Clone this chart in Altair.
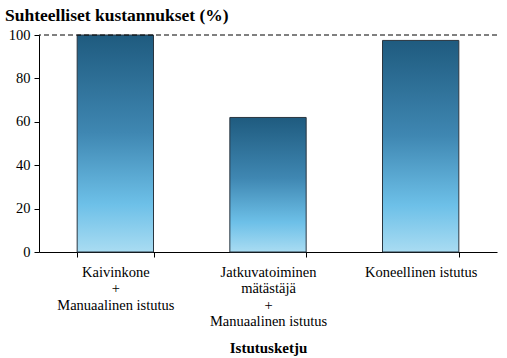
import altair as alt
import pandas as pd

categories = ["Kaivinkone|+|Manuaalinen istutus",
              "Jatkuvatoiminen|mätästäjä|+|Manuaalinen istutus",
              "Koneellinen istutus"]
values = [100, 62, 97.5]
ref_value = [100]

df = pd.DataFrame({"cat": categories, "val": values})
ref = pd.DataFrame({"y": ref_value})

font = "Liberation Serif"

grad = alt.Gradient(
    gradient="linear", x1=0, x2=0, y1=0, y2=1,
    stops=[alt.GradientStop(color="#1f5b7f", offset=0),
           alt.GradientStop(color="#3f87b2", offset=0.45),
           alt.GradientStop(color="#6dc0e8", offset=0.78),
           alt.GradientStop(color="#a9dcf2", offset=1)])

bars = alt.Chart(df).mark_bar(fill=grad, stroke="#2a3640", strokeWidth=1).encode(
    x=alt.X("cat:N", sort=categories, title="Istutusketju",
            scale=alt.Scale(paddingInner=0.5, paddingOuter=0.25),
            axis=alt.Axis(labelExpr="split(datum.label, '|')", labelAngle=0,
                          tickBand="extent", labelFont=font, labelFontSize=14.5,
                          labelColor="black", labelPadding=8, labelLineHeight=16.5,
                          titleFont=font, titleFontSize=15, titleFontWeight="bold",
                          titleColor="black", titlePadding=12,
                          domainColor="black", tickColor="black", tickSize=5)),
    y=alt.Y("val:Q", title=None, scale=alt.Scale(domain=[0, 100], nice=False),
            axis=alt.Axis(values=[0, 20, 40, 60, 80, 100], grid=False,
                          labelFont=font, labelFontSize=14.5, labelColor="black",
                          domainColor="black", tickColor="black", tickSize=5,
                          labelPadding=4)),
)

rule = alt.Chart(ref).mark_rule(color="black", strokeDash=[5, 3], strokeWidth=1).encode(
    y="y:Q")

chart = alt.layer(bars, rule).properties(
    width=458, height=217,
    autosize=alt.AutoSizeParams(type="none"),
    padding={"left": 39, "top": 35, "right": 10, "bottom": 106},
    title=alt.TitleParams("Suhteelliset kustannukset (%)", anchor="start",
                          frame="group", font=font, fontSize=17.5, fontWeight="bold",
                          color="black", dx=-34, offset=3),
).configure_view(stroke=None)

chart.save("out.html", embed_options={"renderer": "svg", "actions": False})
